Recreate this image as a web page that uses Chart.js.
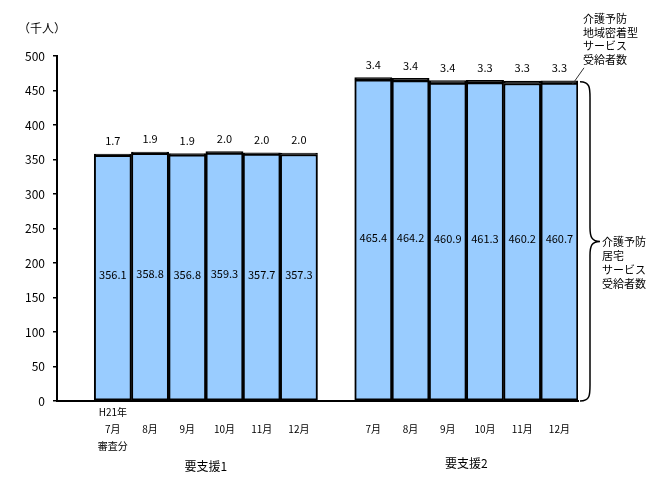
<!DOCTYPE html>
<html><head><meta charset="utf-8">
<script src="https://cdn.jsdelivr.net/npm/chart.js@4"></script>
<style>html,body{margin:0;padding:0;background:#fff;}canvas{display:block;}</style>
</head><body>
<canvas id="c" width="659" height="486"></canvas>
<script>
const slotLabels = [
  [''],
  ['H21年','7月','審査分'],
  ['','8月'],['','9月'],['','10月'],['','11月'],['','12月'],
  [''],
  ['','7月'],['','8月'],['','9月'],['','10月'],['','11月'],['','12月']
];
const kyotaku = [null,356.1,358.8,356.8,359.3,357.7,357.3,null,465.4,464.2,460.9,461.3,460.2,460.7];
const chiiki  = [null,1.7,1.9,1.9,2.0,2.0,2.0,null,3.4,3.4,3.4,3.3,3.3,3.3];
const groupNames = ['要支援1','要支援2'];
const groupSlots = [[1,6],[8,13]];
const unitLabel = '（千人）';
const noteTop = ['介護予防','地域密着型','サービス','受給者数'];
const noteMain = ['介護予防','居宅','サービス','受給者数'];
const yTicks = [0,50,100,150,200,250,300,350,400,450,500];

const FONT = '"Noto Sans CJK JP", "DejaVu Sans", sans-serif';

const overlay = {
  id: 'overlay',
  afterDatasetsDraw(chart) {
    const ctx = chart.ctx;
    const x = chart.scales.x, y = chart.scales.y;
    ctx.save();
    ctx.fillStyle = '#000';
    ctx.textAlign = 'center';
    ctx.textBaseline = 'middle';
    ctx.font = '11px ' + FONT;
    kyotaku.forEach((v, i) => {
      if (v == null) return;
      const cx = x.getPixelForValue(i);
      ctx.fillText(v.toFixed(1), cx, (y.getPixelForValue(0) + y.getPixelForValue(v)) / 2 - 3);
      const top = y.getPixelForValue(v + chiiki[i]);
      ctx.fillText(chiiki[i].toFixed(1), cx, top - 13);
    });
    // unit label
    ctx.font = '12px ' + FONT;
    ctx.fillText(unitLabel, 42, 28);
    // group labels
    ctx.font = '12px ' + FONT;
    groupSlots.forEach((g, k) => {
      const cx = (x.getPixelForValue(g[0]) + x.getPixelForValue(g[1])) / 2;
      ctx.fillText(groupNames[k], cx, k === 0 ? 466 : 463);
    });
    // brace for last bar
    const last = kyotaku.length - 1;
    const step = x.getPixelForValue(1) - x.getPixelForValue(0);
    const bx = x.getPixelForValue(last) + step / 2 + 2;
    const yt = y.getPixelForValue(kyotaku[last] + chiiki[last]) + 1;
    const yb = y.getPixelForValue(0);
    const ym = (yt + yb) / 2;
    const w = 10;
    ctx.strokeStyle = '#000';
    ctx.lineWidth = 1.5;
    ctx.beginPath();
    ctx.moveTo(bx, yt);
    ctx.bezierCurveTo(bx + w, yt, bx + w, yt + 6, bx + w, yt + 16);
    ctx.lineTo(bx + w, ym - 14);
    ctx.bezierCurveTo(bx + w, ym - 4, bx + w + 2, ym, bx + w + 10, ym);
    ctx.bezierCurveTo(bx + w + 2, ym, bx + w, ym + 4, bx + w, ym + 14);
    ctx.lineTo(bx + w, yb - 16);
    ctx.bezierCurveTo(bx + w, yb - 6, bx + w, yb, bx, yb);
    ctx.stroke();
    // main note
    ctx.textAlign = 'left';
    ctx.font = '11px ' + FONT;
    noteMain.forEach((t, i) => ctx.fillText(t, bx + w + 12, ym + i * 14));
    // top note with leader line
    const lx = x.getPixelForValue(last) + step / 2 - 6;
    ctx.lineWidth = 1;
    ctx.strokeStyle = '#333';
    ctx.beginPath();
    ctx.moveTo(lx, yt + 3);
    ctx.lineTo(lx + 12, yt - 14);
    ctx.stroke();
    noteTop.forEach((t, i) => ctx.fillText(t, 583, 19 + i * 13.5));
    ctx.restore();
  }
};

new Chart(document.getElementById('c'), {
  type: 'bar',
  data: {
    labels: slotLabels,
    datasets: [
      { label: '居宅', data: kyotaku, backgroundColor: '#99CCFF', borderColor: '#000', borderWidth: 2, borderSkipped: false, categoryPercentage: 1, barPercentage: 1 },
      { label: '地域密着型', data: chiiki, backgroundColor: '#000', borderColor: '#000', borderWidth: 1.5, borderSkipped: false, categoryPercentage: 1, barPercentage: 1 }
    ]
  },
  options: {
    responsive: false,
    animation: false,
    layout: { padding: { left: 0, right: 81, top: 56, bottom: 0 } },
    plugins: { legend: { display: false }, tooltip: { enabled: false } },
    scales: {
      x: {
        stacked: true,
        grid: { display: false },
        border: { display: true, color: '#000', width: 2 },
        ticks: { color: '#000', font: { size: 10, family: FONT, lineHeight: 1.7 }, maxRotation: 0, autoSkip: false, padding: -5 },
        afterFit(s) { s.height = 85; }
      },
      y: {
        stacked: true,
        min: 0, max: 500,
        afterBuildTicks(s) { s.ticks = yTicks.map(v => ({ value: v })); },
        grid: { display: true, drawOnChartArea: false, drawTicks: true, tickLength: 4, color: '#000', lineWidth: 1.5 },
        border: { display: true, color: '#000', width: 2 },
        ticks: { color: '#000', font: { size: 12, family: FONT }, padding: 8 },
        afterFit(s) { s.width = 57; }
      }
    }
  },
  plugins: [overlay]
});
</script>
</body></html>
